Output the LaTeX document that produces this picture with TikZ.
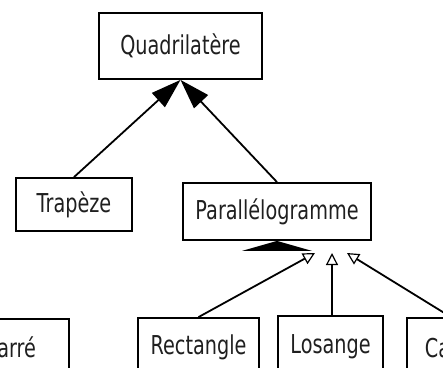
\documentclass[tikz,border=0pt]{standalone}
\usepackage{fontspec}
\setmainfont{DejaVu Sans}[FakeStretch=0.74]
\usetikzlibrary{arrows.meta}
\begin{document}
\begin{tikzpicture}[x=1pt,y=-1pt,
  cls/.style={draw=black, line width=1.8pt, fill=white, inner sep=0pt,
    font=\fontsize{26}{29}\selectfont, text=black!88},
  link/.style={line width=1.8pt, draw=black},
  gen/.style={link, -{Triangle[length=30pt,width=19pt]}},
  genopen/.style={link, -{Triangle[open,length=12pt,width=12pt,line width=1.2pt]}}]
\useasboundingbox (0,0) rectangle (443,367);
\clip (0,0) rectangle (443,367);
\fill[white] (0,0) rectangle (443,367);
% nodes
\node[cls, minimum width=163pt, minimum height=66pt] (quad) at (180.5,46) {Quadrilatère};
\node[cls, minimum width=116pt, minimum height=53pt] (trap) at (74,204.5) {Trapèze};
\node[cls, minimum width=188pt, minimum height=57pt] (para) at (277,211.5) {Parallélogramme};
\node[cls, minimum width=118pt, minimum height=56pt] (carreL) at (10,347) {Carré};
\node[cls, minimum width=121pt, minimum height=58pt] (rect) at (198.5,347) {Rectangle};
\node[cls, minimum width=105pt, minimum height=62pt] (los) at (330.5,347) {Losange};
\node[cls, minimum width=88pt, minimum height=58pt] (carreR) at (451,347) {Carré};
% coordinates of the open tips
\coordinate (t1) at (315,253);
\coordinate (t2) at (332,253);
\coordinate (t3) at (347,253);
% connectors
\draw[gen] (trap.north) -- (quad.south);
\draw[gen] (para.north) -- (quad.south);
\fill[black] (para.south) -- ++(-35,10) -- ++(70,0) -- cycle;
\draw[genopen] (rect.north) -- (t1);
\draw[genopen] (los.north -| t2) -- (t2);
\draw[genopen] (carreR.north) -- (t3);
\end{tikzpicture}
\end{document}
